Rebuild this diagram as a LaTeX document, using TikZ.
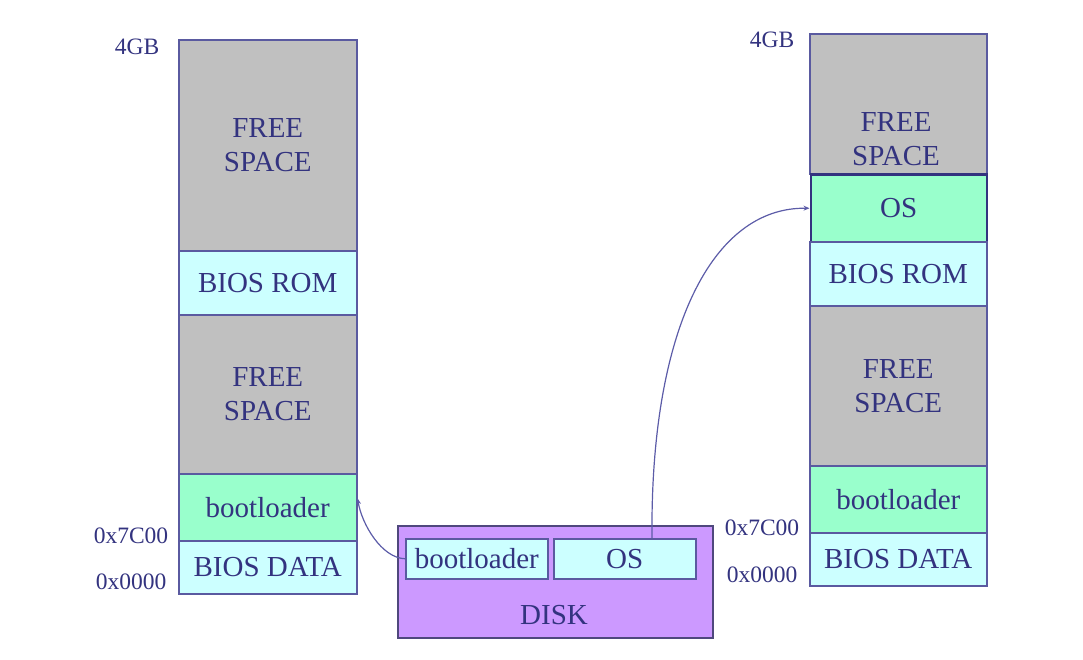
\documentclass[tikz,border=0pt]{standalone}
\usepackage{fontspec}
\setmainfont{Liberation Serif}
\usetikzlibrary{arrows.meta,calc}
\definecolor{freegray}{HTML}{C0C0C0}
\definecolor{romcyan}{HTML}{CCFFFF}
\definecolor{bootgreen}{HTML}{99FFCC}
\definecolor{diskpurple}{HTML}{CC99FF}
\definecolor{edgeblue}{HTML}{5A5AA0}
\definecolor{txtblue}{HTML}{33337F}
\definecolor{arrowblue}{HTML}{5C5CA8}
\tikzset{
  cell/.style={draw=edgeblue, line width=1.5pt, inner sep=0pt, anchor=north west,
    text=txtblue, font=\fontsize{29}{34}\selectfont, align=center},
  freecell/.style={cell, fill=freegray},
  romcell/.style={cell, fill=romcyan},
  bootcell/.style={cell, fill=bootgreen},
  addr/.style={text=txtblue, font=\fontsize{23.5}{26}\selectfont, inner sep=0pt},
  load/.style={draw=arrowblue, line width=1.2pt, -{Stealth[length=6pt,width=5pt]}}
}
\begin{document}
\begin{tikzpicture}[x=1pt,y=-1pt]
\useasboundingbox (0,0) rectangle (1083,659);
% left memory map
\node[freecell, minimum width=178pt, minimum height=211pt] (lfree1) at (178,39) {FREE\\SPACE};
\node[romcell, minimum width=178pt, minimum height=64pt] (lrom) at (178,250) {BIOS ROM};
\node[freecell, minimum width=178pt, minimum height=159pt] (lfree2) at (178,314) {FREE\\SPACE};
\node[bootcell, minimum width=178pt, minimum height=67pt] (lboot) at (178,473) {bootloader};
\node[romcell, minimum width=178pt, minimum height=53pt] (ldata) at (178,540) {BIOS DATA};
\node[addr] (l4gb) at (137,47) {4GB};
\node[addr] (l7c00) at (131,536) {0x7C00};
\node[addr] (l0000) at (131,582) {0x0000};
% right memory map
\node[freecell, minimum width=177pt, minimum height=140pt] (rfree1) at (809,33) {};
\node[text=txtblue, font=\fontsize{29}{34}\selectfont, align=center] (rfree1t) at (896,139) {FREE\\SPACE};
\node[bootcell, draw=txtblue, line width=2.5pt, minimum width=176pt, minimum height=68pt] (ros) at (809.5,173) {OS};
\node[romcell, minimum width=177pt, minimum height=64pt] (rrom) at (809,241) {BIOS ROM};
\node[freecell, minimum width=177pt, minimum height=160pt] (rfree2) at (809,305) {FREE\\SPACE};
\node[bootcell, minimum width=177pt, minimum height=67pt] (rboot) at (809,465) {bootloader};
\node[romcell, minimum width=177pt, minimum height=53pt] (rdata) at (809,532) {BIOS DATA};
\node[addr] (r4gb) at (772,40) {4GB};
\node[addr] (r7c00) at (762,528) {0x7C00};
\node[addr] (r0000) at (762,575) {0x0000};
% disk
\node[cell, fill=diskpurple, draw=edgeblue!80!diskpurple!70!black, minimum width=315pt, minimum height=112pt] (disk) at (397,525) {};
\node[text=txtblue, font=\fontsize{29}{34}\selectfont] (disklabel) at (554,615) {DISK};
\node[romcell, minimum width=142pt, minimum height=40pt] (dboot) at (405,538) {bootloader};
\node[romcell, minimum width=142pt, minimum height=40pt] (dos) at (553,538) {OS};
% loading arrows
\coordinate (lbootin) at ($(lboot.east)+(0,-9)$);
\draw[load] (dboot.west) .. controls (382,558) and (362,525) .. (lbootin);
\coordinate (dosout) at (652,538);
\draw[load] (dosout) .. controls (650,330) and (712,207) .. (ros.west);
\end{tikzpicture}
\end{document}
